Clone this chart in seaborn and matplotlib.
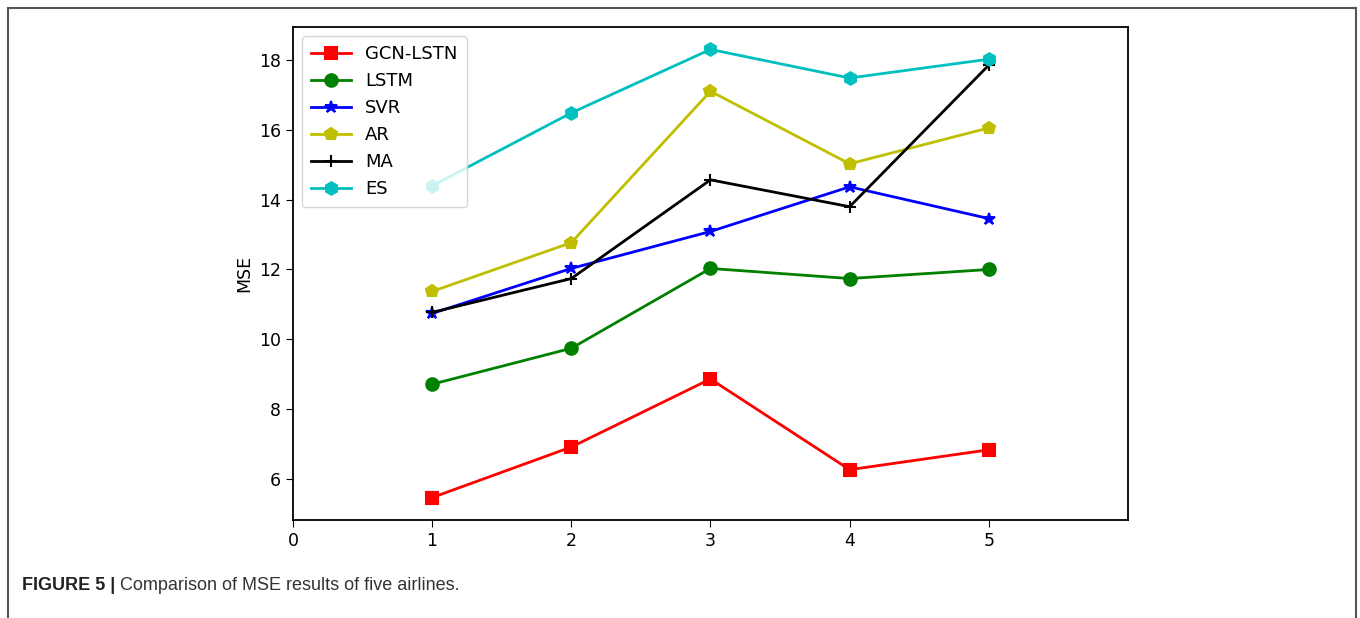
import pandas as pd
import seaborn as sns
import matplotlib.pyplot as plt
from matplotlib.patches import Rectangle

# airlines on the x axis
airlines = [1, 2, 3, 4, 5]

# MSE per model
gcn_lstn = [5.46, 6.91, 8.86, 6.26, 6.83]
lstm = [8.71, 9.74, 12.03, 11.74, 12.00]
svr = [10.74, 12.03, 13.09, 14.37, 13.46]
ar = [11.37, 12.77, 17.11, 15.03, 16.06]
ma = [10.77, 11.74, 14.57, 13.80, 17.86]
es = [14.40, 16.49, 18.31, 17.49, 18.03]

models = ['GCN-LSTN', 'LSTM', 'SVR', 'AR', 'MA', 'ES']
series = [gcn_lstn, lstm, svr, ar, ma, es]
colors = ['r', 'g', 'b', 'y', 'k', 'c']
markers = ['s', 'o', '*', 'p', '+', 'h']

fig = plt.figure(figsize=(13.6, 6.18), dpi=100)
ax = fig.add_axes([0.2154, 0.1586, 0.614, 0.7977])

for name, vals, c, m in zip(models, series, colors, markers):
    df = pd.DataFrame({'airline': airlines, 'mse': vals})
    sns.lineplot(x='airline', y='mse', data=df, ax=ax, color=c, marker=m,
                 markersize=9, markeredgecolor=c, markeredgewidth=1.5,
                 linewidth=2, label=name)

ax.set_xlim(0, 6)
ax.set_xticks([0, 1, 2, 3, 4, 5])
ax.set_yticks([6, 8, 10, 12, 14, 16, 18])
ax.set_xlabel('')
ax.set_ylabel('MSE', fontsize=12.5)
ax.tick_params(labelsize=12.5, length=5)
for s in ax.spines.values():
    s.set_linewidth(1.3)
ax.legend(loc='upper left', fontsize=13, handlelength=2.2, borderpad=0.5)

# journal frame and caption
fig.patches.append(Rectangle((0.006, -0.1), 0.991, 1.087, transform=fig.transFigure,
                             fill=False, edgecolor='#555555', linewidth=1.5))
t1 = fig.text(0.016, 0.052, 'FIGURE 5 |', fontsize=13, fontweight='bold',
              family='Liberation Sans', color='#222222', va='center')
fig.canvas.draw()
bb = t1.get_window_extent().transformed(fig.transFigure.inverted())
fig.text(bb.x1 + 0.004, 0.052, 'Comparison of MSE results of five airlines.', fontsize=13,
         family='Liberation Sans', color='#333333', va='center')

plt.savefig('out.png', dpi=100)
